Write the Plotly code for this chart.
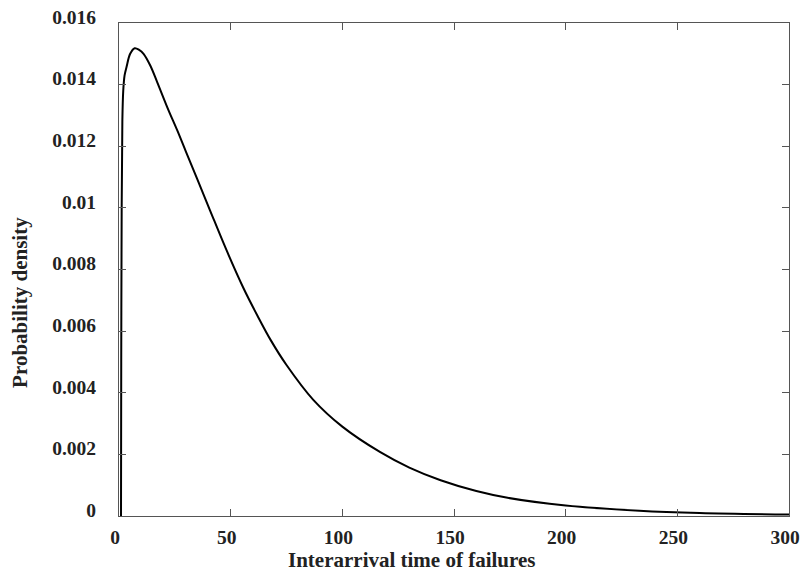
import plotly.graph_objects as go

# Values
interarrival_time = [0.9, 1.0, 1.2, 1.5, 1.9, 2.5, 3.4, 5.0, 7.0, 9.0, 11.0, 14.0, 17.0, 22.0,
                     26.0, 30.0, 35.0, 40.7, 48.0, 55.7, 62.0, 68.0, 75.0, 87.0, 100.0,
                     117.0, 130.0, 144.0, 160.0, 174.0, 200.0, 233.0, 260.0, 300.0]
probability_density = [0.0, 0.0050, 0.0100, 0.0128, 0.0138, 0.0143, 0.01458, 0.0150, 0.01518,
                       0.01513, 0.01500, 0.01462, 0.0141, 0.0132, 0.01253, 0.01182, 0.01094,
                       0.00993, 0.00865, 0.00740, 0.00650, 0.00570, 0.00490, 0.00377, 0.00290,
                       0.00207, 0.00157, 0.00116, 0.00081, 0.00059, 0.000340, 0.00017,
                       0.000095, 0.000045]

x_ticks = [0, 50, 100, 150, 200, 250, 300]
y_ticks = [0, 0.002, 0.004, 0.006, 0.008, 0.01, 0.012, 0.014, 0.016]
y_tick_labels = ["0", "0.002", "0.004", "0.006", "0.008", "0.01", "0.012", "0.014", "0.016"]

x_title = "Interarrival time of failures"
y_title = "Probability density"

font_family = "Liberation Serif, Times New Roman, serif"
text_color = "#222222"
axis_color = "#555555"

fig = go.Figure()
fig.add_trace(go.Scatter(
    x=interarrival_time, y=probability_density, mode="lines",
    line=dict(color="black", width=2, shape="spline", smoothing=1.0),
    showlegend=False, hoverinfo="skip",
))

axis_common = dict(
    showgrid=False, zeroline=False, showline=True, linecolor=axis_color, linewidth=1,
    mirror="ticks", ticks="inside", ticklen=7, tickcolor=axis_color, tickwidth=1,
    automargin=False,
    tickfont=dict(family=font_family, size=19.5, color=text_color),
)

fig.update_layout(
    width=801, height=576,
    margin=dict(l=119, r=12, t=23, b=60, autoexpand=False),
    paper_bgcolor="white", plot_bgcolor="white",
    font=dict(family=font_family, color=text_color),
    xaxis=dict(range=[0, 300], tickvals=x_ticks,
               ticktext=[f"<b>{t}</b>" for t in x_ticks],
               ticklabeloverflow="allow", ticklabelshift=-4, ticklabelstandoff=4,
               **axis_common),
    yaxis=dict(range=[0, 0.016], tickvals=y_ticks,
               ticktext=[f"<b>{t}</b>" for t in y_tick_labels],
               ticklabelshift=-6, ticklabelstandoff=18,
               **axis_common),
    annotations=[
        dict(text=f"<b>{x_title}</b>", xref="paper", yref="paper",
             x=0.437, y=-0.089, xanchor="center", yanchor="middle", showarrow=False,
             font=dict(family=font_family, size=21, color=text_color)),
        dict(text=f"<b>{y_title}</b>", xref="paper", yref="paper",
             x=-0.148, y=0.434, xanchor="center", yanchor="middle", showarrow=False,
             textangle=-90,
             font=dict(family=font_family, size=21, color=text_color)),
    ],
)

fig.write_html("out.html")
